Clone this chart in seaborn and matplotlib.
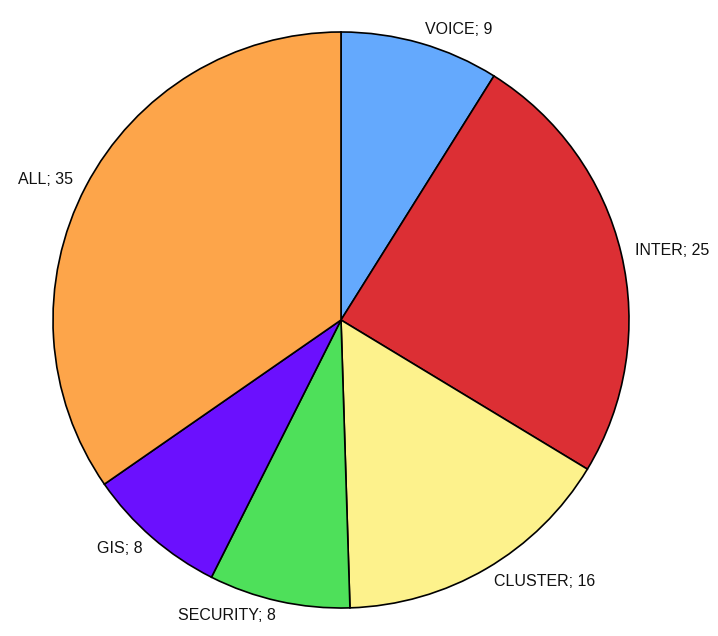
import numpy as np
import seaborn as sns
import matplotlib.pyplot as plt

# dados do grafico
categorias = ['VOICE', 'INTER', 'CLUSTER', 'SECURITY', 'GIS', 'ALL']
valores = [9, 25, 16, 8, 8, 35]
cores = ['#64a9fd', '#dc2f34', '#fdf28c', '#4ee05a', '#6b10fe', '#fda54a']

rotulos = [f'{c}; {v}' for c, v in zip(categorias, valores)]

sns.set_theme(style='white')
plt.rcParams['font.family'] = ['Liberation Sans', 'DejaVu Sans']

fig = plt.figure(figsize=(7.18, 6.36), dpi=100)
# centro em (341, 320) px, raio 288 px
ax = fig.add_axes([(341 - 288) / 718, (316 - 288) / 636, 576 / 718, 576 / 636])

ax.pie(valores, labels=rotulos, colors=cores, startangle=90, counterclock=False,
       labeldistance=1.05, radius=1,
       wedgeprops={'edgecolor': 'black', 'linewidth': 1.2},
       textprops={'fontsize': 11.5, 'color': '#111111'})
ax.set_xlim(-1, 1)
ax.set_ylim(-1, 1)
ax.set_aspect('equal')
for t in ax.texts:
    t.set_clip_on(False)

fig.savefig('out.png', dpi=100, facecolor='white')
